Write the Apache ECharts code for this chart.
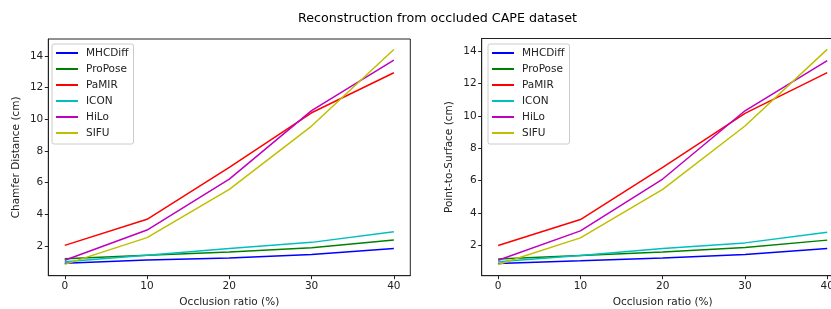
<!DOCTYPE html>
<html>
<head>
<meta charset="utf-8">
<script src="https://cdn.jsdelivr.net/npm/echarts@6/dist/echarts.min.js"></script>
<style>
  html, body { margin: 0; padding: 0; background: #fff; }
  #myChart { width: 831px; height: 309px; }
</style>
</head>
<body>
<div id="myChart"></div>
<script>
// occlusion ratios (%)
let ratios = [0, 10, 20, 30, 40]
let xTicks = [0, 10, 20, 30, 40]
let yTicks = [2, 4, 6, 8, 10, 12, 14]
let names = ['MHCDiff', 'ProPose', 'PaMIR', 'ICON', 'HiLo', 'SIFU']
let colors = ['#0000ff', '#008000', '#ff0000', '#00bfbf', '#bf00bf', '#bfbf00']

// Chamfer Distance (cm)
let cdMHCDiff = [0.91, 1.12, 1.24, 1.47, 1.85]
let cdProPose = [1.20, 1.41, 1.62, 1.89, 2.38]
let cdPaMIR   = [2.04, 3.69, 6.97, 10.42, 12.95]
let cdICON    = [1.00, 1.41, 1.85, 2.23, 2.90]
let cdHiLo    = [1.10, 3.01, 6.23, 10.55, 13.75]
let cdSIFU    = [0.84, 2.53, 5.58, 9.58, 14.42]

// Point-to-Surface (cm)
let p2sMHCDiff = [0.89, 1.05, 1.22, 1.44, 1.81]
let p2sProPose = [1.17, 1.38, 1.60, 1.88, 2.33]
let p2sPaMIR   = [2.00, 3.60, 6.82, 10.15, 12.66]
let p2sICON    = [0.99, 1.38, 1.81, 2.16, 2.82]
let p2sHiLo    = [1.09, 2.90, 6.10, 10.31, 13.40]
let p2sSIFU    = [0.83, 2.47, 5.46, 9.37, 14.10]

let cdData = [cdMHCDiff, cdProPose, cdPaMIR, cdICON, cdHiLo, cdSIFU]
let p2sData = [p2sMHCDiff, p2sProPose, p2sPaMIR, p2sICON, p2sHiLo, p2sSIFU]

let font = 'DejaVu Sans'
let fs = 10.5

function makeXAxis(gridIndex) {
    return {
        type: 'value',
        gridIndex: gridIndex,
        min: -2,
        max: 42,
        name: 'Occlusion ratio (%)',
        nameLocation: 'middle',
        nameGap: 20,
        nameTextStyle: { color: '#222', fontSize: fs, fontFamily: font },
        axisLine: { show: true, onZero: false, lineStyle: { color: '#222', width: 1 } },
        axisTick: { show: true, inside: false, length: 3.5, customValues: xTicks, lineStyle: { color: '#222' } },
        axisLabel: { show: true, customValues: xTicks, color: '#222', fontSize: fs, fontFamily: font, margin: 5 },
        splitLine: { show: false }
    }
}

function makeYAxis(gridIndex, name, min, max) {
    return {
        type: 'value',
        gridIndex: gridIndex,
        min: min,
        max: max,
        name: name,
        nameLocation: 'middle',
        nameGap: 27,
        nameTextStyle: { color: '#222', fontSize: fs, fontFamily: font },
        axisLine: { show: true, onZero: false, lineStyle: { color: '#222', width: 1 } },
        axisTick: { show: true, inside: false, length: 3.5, customValues: yTicks, lineStyle: { color: '#222' } },
        axisLabel: { show: true, customValues: yTicks, color: '#222', fontSize: fs, fontFamily: font, margin: 5 },
        splitLine: { show: false }
    }
}

function makeLegend(left) {
    return {
        orient: 'vertical',
        left: left,
        top: 44,
        data: names,
        icon: 'rect',
        itemWidth: 22,
        itemHeight: 2,
        itemGap: 4,
        padding: [3, 5, 5, 4],
        borderColor: '#cccccc',
        borderWidth: 1,
        borderRadius: 2,
        backgroundColor: 'rgba(255,255,255,0.8)',
        selectedMode: false,
        textStyle: { color: '#222', fontSize: fs, fontFamily: font, lineHeight: 12, padding: [0, 0, 0, 3] }
    }
}

let series = []
names.forEach(function (name, i) {
    series.push({
        name: name,
        type: 'line',
        xAxisIndex: 0,
        yAxisIndex: 0,
        symbol: 'none',
        color: colors[i],
        lineStyle: { width: 1.5 },
        data: ratios.map(function (r, j) { return [r, cdData[i][j]] })
    })
    series.push({
        name: name,
        type: 'line',
        xAxisIndex: 1,
        yAxisIndex: 1,
        symbol: 'none',
        color: colors[i],
        lineStyle: { width: 1.5 },
        data: ratios.map(function (r, j) { return [r, p2sData[i][j]] })
    })
})

let option = {
    animation: false,
    backgroundColor: '#fff',
    title: {
        text: 'Reconstruction from occluded CAPE dataset',
        left: 293,
        top: 7,
        textStyle: { color: '#000', fontSize: 12.7, fontWeight: 'normal', fontFamily: font }
    },
    legend: [makeLegend(52), makeLegend(488)],
    grid: [
        { left: 48.3, top: 39, width: 362, height: 236.7, show: true, borderColor: '#222', borderWidth: 1, outerBoundsMode: 'none' },
        { left: 481.7, top: 38.5, width: 362, height: 237.2, show: true, borderColor: '#222', borderWidth: 1, outerBoundsMode: 'none' }
    ],
    xAxis: [makeXAxis(0), makeXAxis(1)],
    yAxis: [
        makeYAxis(0, 'Chamfer Distance (cm)', 0.124, 15.08),
        makeYAxis(1, 'Point-to-Surface (cm)', 0.135, 14.77)
    ],
    series: series
}

let myChart = echarts.init(document.getElementById('myChart'), null, { renderer: 'canvas' })
myChart.setOption(option, true)
</script>
</body>
</html>
